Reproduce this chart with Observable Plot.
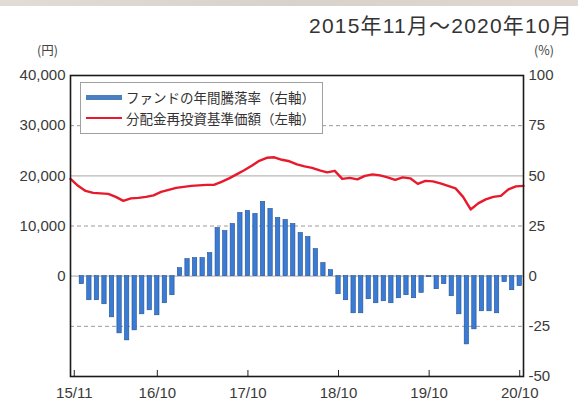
<!DOCTYPE html>
<html><head><meta charset="utf-8">
<script src="https://cdn.jsdelivr.net/npm/d3@7"></script>
<script src="https://cdn.jsdelivr.net/npm/@observablehq/plot@0.6"></script>
<style>
body{margin:0;background:#fff;}
#chart{position:relative;width:578px;height:400px;overflow:hidden;font-family:"Noto Sans CJK JP","Liberation Sans",sans-serif;color:#333;}
#band{position:absolute;left:0;top:0;width:578px;height:6px;background:linear-gradient(90deg,#e2dcd6,#d8d2cc,#e0d8d0);}
#title{position:absolute;right:5px;top:9px;font-size:21px;font-family:"Liberation Sans","Noto Sans CJK JP",sans-serif;color:#333;letter-spacing:1.2px;}
.unit{position:absolute;top:40px;font-size:12.5px;color:#444;font-family:"Noto Sans CJK JP",sans-serif;}
#legend{position:absolute;left:80px;top:82px;width:241px;height:50px;border:1px solid #a0a0a0;background:#fff;font-size:13.5px;color:#333;}
.item{position:absolute;left:5px;display:flex;align-items:center;white-space:nowrap;}
.sw{display:inline-block;width:36px;margin-right:4px;}
</style></head><body>
<div id="chart">
  <div id="band"></div>
  <div id="title"></div>
  <div class="unit" id="uL" style="left:37px;"></div>
  <div class="unit" id="uR" style="left:534px;"></div>
  <div id="legend"></div>
</div>
<script>
// ---- data ----
const titleText = "2015年11月～2020年10月";
const leftUnit = "(円)";
const rightUnit = "(%)";
const seriesNames = ["ファンドの年間騰落率（右軸）", "分配金再投資基準価額（左軸）"];
// annual return (%), monthly 2015/12 .. 2020/10
const annualReturn = [
  -4, -12, -12, -14, -20.5, -28.5, -32, -27, -19, -17, -19.5, -13.5, -9.5,
  4, 8.5, 9, 9, 11.5, 24, 22.5, 26, 31.5, 32.5, 31, 37, 33.5, 29, 28, 26, 21.5, 19.5, 13.5, 6.5, 3,
  -9, -12, -18.5, -18.5, -11.5, -13.5, -12.5, -13.5, -11, -9.5, -11, -8.3, -0.5, -6.5, -4, -10,
  -19, -34, -26.5, -17.5, -17.5, -18.5, -3, -7, -5
];
// NAV (yen), month ends 2015/10 .. 2020/10
const nav = [
  19400, 18000, 17000, 16600, 16500, 16400, 15800, 15000, 15500, 15600, 15800, 16100,
  16800, 17200, 17600, 17800, 18000, 18100, 18200, 18200, 18800, 19500, 20300, 21100,
  22000, 23000, 23600, 23700, 23200, 22900, 22300, 21900, 21600, 21100, 20700, 21000,
  19400, 19600, 19300, 20000, 20300, 20100, 19700, 19200, 19700, 19500, 18400, 19000,
  18900, 18500, 18000, 17500, 15800, 13300, 14500, 15300, 15800, 16000, 17300, 17900, 18000
];
const xTickLabels = ["15/11", "16/10", "17/10", "18/10", "19/10", "20/10"];
const pctTicks = [-50, -25, 0, 25, 50, 75, 100];
const yenTicks = [0, 10000, 20000, 30000, 40000];
const yenPerPct = 400; // left axis: 40,000 yen <-> 100 %

// ---- derived tables ----
const bars = annualReturn.map((v, j) => ({i: j + 1, v}));
const line = nav.map((v, k) => ({k, pct: v / yenPerPct}));
const monthIndex = s => { const [yy, mm] = s.split("/").map(Number); return (yy - 15) * 12 + (mm - 11); };
const xTicks = xTickLabels.map(s => ({label: s, pos: monthIndex(s) + 0.5}));
const labelByPos = new Map(xTicks.map(d => [d.pos, d.label]));

document.getElementById("title").textContent = titleText;
document.getElementById("uL").textContent = leftUnit;
document.getElementById("uR").textContent = rightUnit;

const plot = Plot.plot({
  width: 578, height: 400,
  marginTop: 75, marginBottom: 24, marginLeft: 70, marginRight: 55,
  style: {fontFamily: "'Liberation Sans', Arial, sans-serif", fontSize: "15px", color: "#3a3a3a", background: "transparent"},
  x: {domain: [0, 60]},
  y: {domain: [-50, 100]},
  marks: [
    Plot.ruleY([75, 25, -25], {stroke: "#9a9a9a", strokeWidth: 1, strokeDasharray: "4,3"}),
    Plot.ruleY([50, 0], {stroke: "#b8b8b8", strokeWidth: 1.2}),
    Plot.rectY(bars, {x1: d => d.i, x2: d => d.i + 1, y1: 0, y2: "v", fill: "#3a7bd5", stroke: "#24508e", strokeWidth: 0.6, insetLeft: 1.6, insetRight: 1.6}),
    Plot.line(line, {x: "k", y: "pct", stroke: "#e8192a", strokeWidth: 2.4, strokeLinejoin: "round"}),
    Plot.ruleX(xTicks, {x: "pos", y1: -50, y2: -47, stroke: "#222", strokeWidth: 1}),
    Plot.frame({stroke: "#1a1a1a", strokeWidth: 1.6}),
    Plot.axisY(yenTicks.map(v => v / yenPerPct), {anchor: "left", tickSize: 0, tickPadding: 5, tickFormat: d => d3.format(",")(Math.round(d * yenPerPct)), label: null}),
    Plot.axisY(pctTicks, {anchor: "right", tickSize: 0, tickPadding: 5, tickFormat: d => String(d), label: null}),
    Plot.axisX(xTicks.map(d => d.pos), {tickSize: 0, tickPadding: 11, tickFormat: d => labelByPos.get(d), label: null})
  ]
});
plot.style.position = "absolute";
plot.style.left = "0px";
plot.style.top = "0px";
const chart = document.getElementById("chart");
chart.insertBefore(plot, document.getElementById("legend"));

const legend = document.getElementById("legend");
legend.innerHTML =
  `<div class="item" style="top:4px;"><span class="sw" style="height:5px;background:#4a7fc0;"></span>${seriesNames[0]}</div>` +
  `<div class="item" style="top:25px;"><span class="sw" style="height:2.5px;background:#e8192a;"></span>${seriesNames[1]}</div>`;
</script>
</body></html>
